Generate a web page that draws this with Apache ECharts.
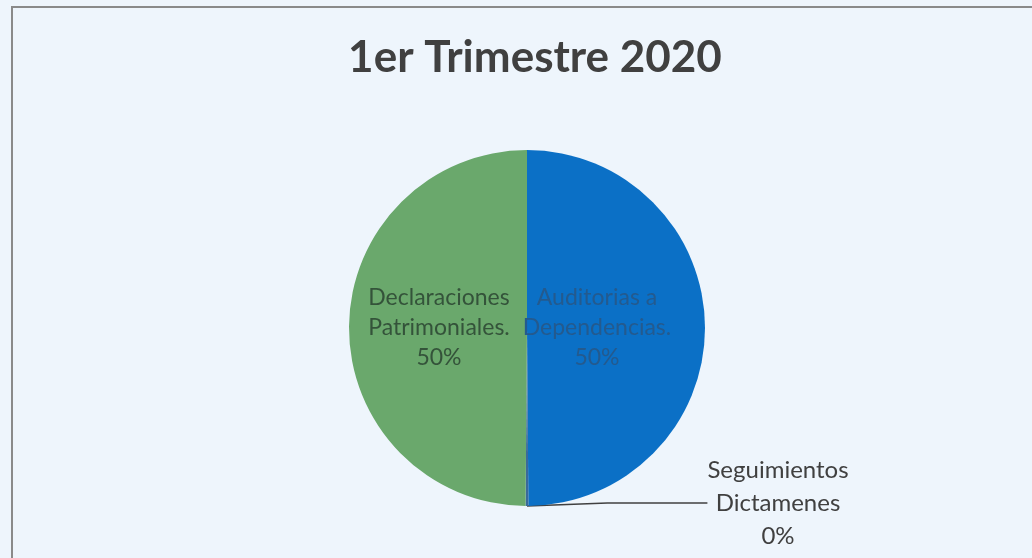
<!DOCTYPE html>
<html>
<head>
<meta charset="utf-8">
<script src="https://cdn.jsdelivr.net/npm/echarts@6/dist/echarts.min.js"></script>
<style>
html,body{margin:0;padding:0;background:#eef5fc;}
#chart{width:1032px;height:558px;}
</style>
</head>
<body>
<div id="chart"></div>
<script>
const titleText = '1er Trimestre 2020';
const categories = ['Auditorias a\nDependencias.', 'Seguimientos\nDictamenes', 'Declaraciones\nPatrimoniales.'];
const values = [50, 0.25, 50];
const sliceColors = ['#0b70c6', '#3a6a9a', '#6aa86c'];
const labelColors = ['#245a8e', '#404040', '#34533a'];

const chart = echarts.init(document.getElementById('chart'));
const data = categories.map((c, i) => {
  const item = { name: c, value: values[i], itemStyle: { color: sliceColors[i] } };
  if (i === 1) {
    item.label = { position: 'outside', color: labelColors[i], fontSize: 24, lineHeight: 33, align: 'center' };
    item.labelLine = { show: true, length: 20, length2: 100, lineStyle: { color: '#404040', width: 1.5 } };
  } else {
    item.label = { position: 'inside', color: labelColors[i], fontSize: 23, lineHeight: 30, align: 'center' };
    item.labelLine = { show: false };
  }
  return item;
});

chart.setOption({
  backgroundColor: '#eef5fc',
  title: {
    text: titleText,
    left: 530, top: 31, textAlign: 'center',
    textStyle: { fontFamily: 'Lato', fontWeight: 'bold', fontSize: 44, color: '#404040' }
  },
  graphic: [{
    type: 'polyline',
    shape: { points: [[12, 560], [12, 7], [1040, 7]] },
    style: { stroke: '#8a8a8a', lineWidth: 2, fill: null }
  }],
  series: [{
    type: 'pie',
    center: [527, 328],
    radius: 178,
    startAngle: 90,
    clockwise: true,
    avoidLabelOverlap: false,
    minAngle: 0,
    label: {
      show: true,
      fontFamily: 'Lato',
      formatter: function (p) { return p.name + '\n' + Math.round(p.percent) + '%'; }
    },
    labelLayout: function (p) {
      if (p.dataIndex === 0) return { dx: -22 };
      if (p.dataIndex === 1) return { x: 778, y: 503, align: 'center', verticalAlign: 'middle' };
      if (p.dataIndex === 2) return { dx: 4 };
      return {};
    },
    emphasis: { disabled: true },
    data: data
  }]
});
</script>
</body>
</html>
